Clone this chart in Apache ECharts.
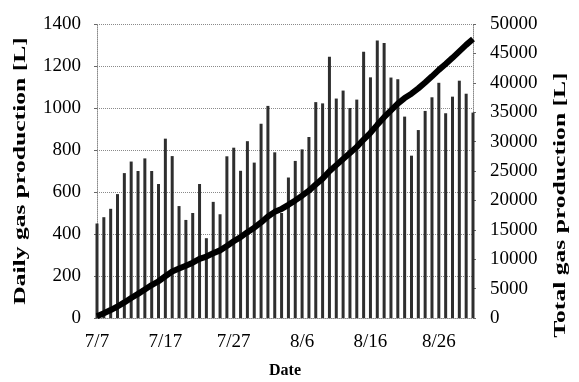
<!DOCTYPE html>
<html>
<head>
<meta charset="utf-8">
<script src="https://cdn.jsdelivr.net/npm/echarts@6/dist/echarts.min.js"></script>
<style>
html,body{margin:0;padding:0;background:#fff;}
#chart{width:579px;height:382px;}
</style>
</head>
<body>
<div id="chart"></div>
<script>
// days 7/7 .. 8/31
const dates = ['7/7','7/8','7/9','7/10','7/11','7/12','7/13','7/14','7/15','7/16',
  '7/17','7/18','7/19','7/20','7/21','7/22','7/23','7/24','7/25','7/26',
  '7/27','7/28','7/29','7/30','7/31','8/1','8/2','8/3','8/4','8/5',
  '8/6','8/7','8/8','8/9','8/10','8/11','8/12','8/13','8/14','8/15',
  '8/16','8/17','8/18','8/19','8/20','8/21','8/22','8/23','8/24','8/25',
  '8/26','8/27','8/28','8/29','8/30','8/31'];

// daily gas production [L]
const daily = [450,480,520,590,690,745,700,760,700,638,
  854,771,533,467,500,638,380,553,494,770,
  811,701,842,740,925,1010,789,500,669,748,
  803,862,1028,1022,1244,1045,1083,1000,1040,1268,
  1146,1321,1310,1145,1137,959,773,895,986,1051,
  1120,975,1054,1130,1068,978];

// total gas production [L]
const total = [300,800,1350,1950,2650,3400,4100,4850,5600,6250,
  7100,7900,8400,8900,9400,10050,10450,11000,11500,12250,
  13050,13750,14600,15350,16250,17250,18050,18550,19250,20000,
  20800,21650,22700,23700,24950,26000,27050,28050,29100,30350,
  31500,32850,34150,35300,36450,37400,38150,39050,40050,41100,
  42200,43200,44250,45350,46450,47450];

const leftMax = 1400, leftStep = 200;
const rightMax = 50000, rightStep = 5000;

const font = 'Liberation Serif';
const chart = echarts.init(document.getElementById('chart'));

const dotted = {color: '#8a8a8a', width: 1, type: [1, 1]};
const plain = v => String(v);

// the axis titles in the picture are stretched along their length
function vTitle(text, x, y) {
  return {
    type: 'text',
    x: x, y: y,
    rotation: Math.PI / 2,
    scaleX: 1.6,
    style: {
      text: text,
      fontFamily: font, fontWeight: 'bold', fontSize: 16,
      fill: '#000', align: 'center', verticalAlign: 'middle'
    }
  };
}

chart.setOption({
  animation: false,
  textStyle: {fontFamily: font, color: '#000'},
  grid: {left: 97, right: 106, top: 24, bottom: 64, containLabel: false, outerBoundsMode: 'none'},
  graphic: [
    vTitle('Daily gas production [L]', 21, 171),
    vTitle('Total gas production [L]', 561, 205)
  ],
  xAxis: {
    type: 'category',
    data: dates,
    boundaryGap: false,
    name: 'Date',
    nameLocation: 'middle',
    nameGap: 45,
    nameTextStyle: {fontFamily: font, fontWeight: 'bold', fontSize: 16, color: '#000'},
    axisLine: {lineStyle: dotted},
    axisTick: {show: false},
    axisLabel: {interval: 9, fontFamily: font, fontSize: 19, color: '#000', margin: 15},
    splitLine: {show: false}
  },
  yAxis: [{
    type: 'value',
    min: 0, max: leftMax, interval: leftStep,
    axisLine: {show: true, lineStyle: dotted},
    axisTick: {show: true, length: 3, lineStyle: {color: '#666'}},
    axisLabel: {fontFamily: font, fontSize: 19, color: '#000', margin: 16, formatter: plain},
    splitLine: {show: true, lineStyle: dotted}
  }, {
    type: 'value',
    position: 'right',
    min: 0, max: rightMax, interval: rightStep,
    axisLine: {show: true, lineStyle: dotted},
    axisTick: {show: true, length: 3, lineStyle: {color: '#666'}},
    axisLabel: {fontFamily: font, fontSize: 19, color: '#000', margin: 17, formatter: plain},
    splitLine: {show: false}
  }],
  series: [{
    name: 'Daily',
    type: 'bar',
    data: daily,
    barWidth: 3,
    itemStyle: {color: '#2e2e2e'},
    z: 2
  }, {
    name: 'Total',
    type: 'line',
    yAxisIndex: 1,
    data: total,
    showSymbol: false,
    symbol: 'none',
    lineStyle: {color: '#000', width: 6},
    z: 3
  }]
});
</script>
</body>
</html>
